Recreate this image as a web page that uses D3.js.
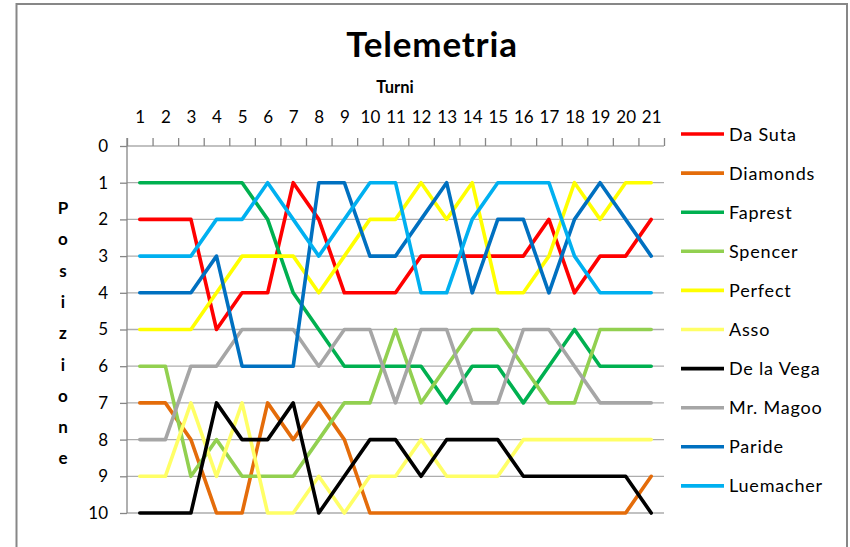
<!DOCTYPE html>
<html>
<head>
<meta charset="utf-8">
<script src="https://cdn.jsdelivr.net/npm/d3@7"></script>
<style>
body{margin:0;background:#fff;}
svg{display:block;font-family:Lato,"Open Sans",sans-serif;}
</style>
</head>
<body>
<div id="chart"></div>
<script>
// dati
const turni = d3.range(1, 22);
const posizioni = d3.range(0, 11);
const squadre = ["Da Suta","Diamonds","Faprest","Spencer","Perfect","Asso","De la Vega","Mr. Magoo","Paride","Luemacher"];
const colori = ["#FF0000","#E46C0A","#00B050","#92D050","#FFFF00","#FFFF66","#000000","#A6A6A6","#0070C0","#00B0F0"];

const daSuta    = [2,2,2,5,4,4,1,2,4,4,4,3,3,3,3,3,2,4,3,3,2];
const diamonds  = [7,7,8,10,10,7,8,7,8,10,10,10,10,10,10,10,10,10,10,10,9];
const faprest   = [1,1,1,1,1,2,4,5,6,6,6,6,7,6,6,7,6,5,6,6,6];
const spencer   = [6,6,9,8,9,9,9,8,7,7,5,7,6,5,5,6,7,7,5,5,5];
const perfect   = [5,5,5,4,3,3,3,4,3,2,2,1,2,1,4,4,3,1,2,1,1];
const asso      = [9,9,7,9,7,10,10,9,10,9,9,8,9,9,9,8,8,8,8,8,8];
const delaVega  = [10,10,10,7,8,8,7,10,9,8,8,9,8,8,8,9,9,9,9,9,10];
const mrMagoo   = [8,8,6,6,5,5,5,6,5,5,7,5,5,7,7,5,5,6,7,7,7];
const paride    = [4,4,4,3,6,6,6,1,1,3,3,2,1,4,2,2,4,2,1,2,3];
const luemacher = [3,3,3,2,2,1,2,3,2,1,1,4,4,2,1,1,1,3,4,4,4];

const serie = [daSuta,diamonds,faprest,spencer,perfect,asso,delaVega,mrMagoo,paride,luemacher];

const W = 850, H = 547;
const svg = d3.select("#chart").append("svg").attr("width", W).attr("height", H);

// bordo grafico
svg.append("rect").attr("x",16.5).attr("y",4).attr("width",830.5).attr("height",560)
  .attr("fill","#fff").attr("stroke","#878787").attr("stroke-width",2);

// scale
const x = d3.scaleLinear().domain([0.5, 21.5]).range([127, 664]);
const y = d3.scaleLinear().domain([0, 10]).range([146, 513]);

// griglia
svg.append("g").selectAll("line").data(posizioni).enter().append("line")
  .attr("x1",127).attr("x2",664)
  .attr("y1",d=>y(d)).attr("y2",d=>y(d))
  .attr("stroke","#ADADAD").attr("stroke-width",1.3);

// asse y
const axY = svg.append("g").attr("transform","translate(127,0)")
  .call(d3.axisLeft(y).tickValues(posizioni).tickSize(7).tickPadding(12).tickFormat(d3.format("d")));
axY.select(".domain").attr("stroke","#868686").attr("stroke-width",1.3).attr("d","M0,138V513");
axY.selectAll(".tick line").attr("stroke","#868686").attr("stroke-width",1.3);
axY.selectAll("text").attr("font-size",17).attr("fill","#000").attr("font-family","Lato");

// asse x in alto: tacche ai confini, etichette al centro
const axXt = svg.append("g").attr("transform","translate(0,146)")
  .call(d3.axisTop(x).tickValues(d3.range(0.5, 22, 1)).tickSize(8).tickFormat(""));
axXt.select(".domain").remove();
axXt.selectAll(".tick line").attr("stroke","#868686").attr("stroke-width",1.3);

const axX = svg.append("g").attr("transform","translate(0,146)")
  .call(d3.axisTop(x).tickValues(turni).tickSize(0).tickPadding(23).tickFormat(d3.format("d")));
axX.select(".domain").remove();
axX.selectAll("text").attr("font-size",17).attr("fill","#000").attr("font-family","Lato");

// linee
const line = d3.line().x((d,i)=>x(turni[i])).y(d=>y(d));
svg.append("g").selectAll("path").data(serie).enter().append("path")
  .attr("d", line)
  .attr("fill","none")
  .attr("stroke",(d,i)=>colori[i])
  .attr("stroke-width",3.6)
  .attr("stroke-linejoin","round")
  .attr("stroke-linecap","round");

// titoli
svg.append("text").attr("x",432).attr("y",57).attr("text-anchor","middle")
  .attr("font-size",35).attr("font-weight","bold").attr("letter-spacing",0.8).text("Telemetria");
svg.append("text").attr("x",395).attr("y",93).attr("text-anchor","middle")
  .attr("font-size",16.5).attr("font-weight","bold").text("Turni");

const lettere = "Posizione".split("");
svg.append("g").selectAll("text").data(lettere).enter().append("text")
  .attr("x",63).attr("y",(d,i)=>214+i*31.3).attr("text-anchor","middle")
  .attr("font-size",17).attr("font-weight","bold").text(d=>d);

// legenda
const leg = svg.append("g").selectAll("g").data(squadre).enter().append("g")
  .attr("transform",(d,i)=>"translate(0,"+(134+i*39.1)+")");
leg.append("line").attr("x1",681).attr("x2",724).attr("y1",0).attr("y2",0)
  .attr("stroke",(d,i)=>colori[i]).attr("stroke-width",3.6);
leg.append("text").attr("x",729).attr("y",6.5).attr("font-size",18)
  .attr("letter-spacing",0.8).text(d=>d);
</script>
</body>
</html>
